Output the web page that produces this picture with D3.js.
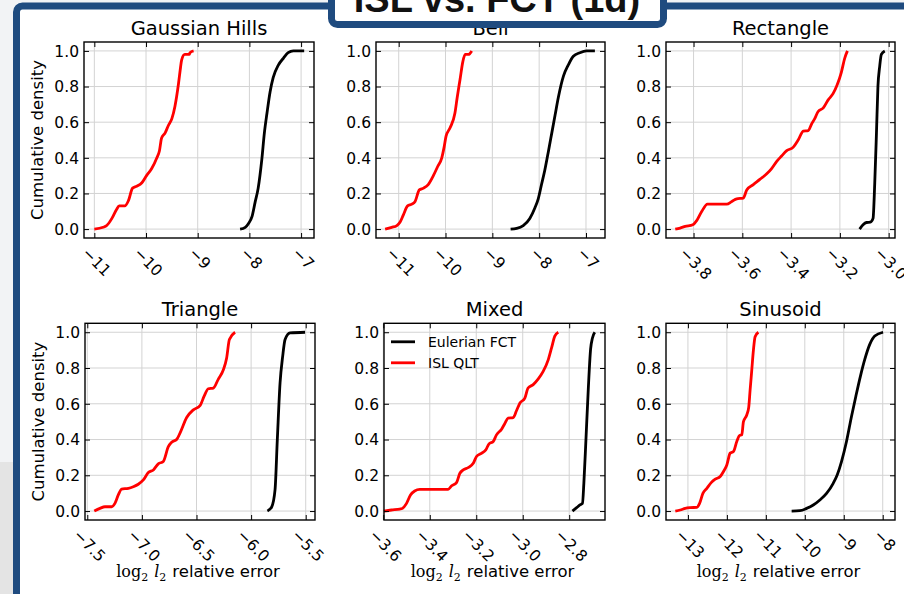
<!DOCTYPE html>
<html><head><meta charset="utf-8">
<script src="https://cdn.jsdelivr.net/npm/d3@7"></script>
<style>html,body{margin:0;padding:0;background:#f2f3f5;overflow:hidden}svg{display:block}</style>
</head><body><svg id="c" width="904" height="594"></svg>
<script>
// ---------------- data ----------------
const panelTitles = ["Gaussian Hills", "Bell", "Rectangle", "Triangle", "Mixed", "Sinusoid"];
const seriesNames = ["Eulerian FCT", "ISL QLT"];
const yTickValues = [0, 0.2, 0.4, 0.6, 0.8, 1.0];
const yLimits = [-0.05, 1.05];

const gaussianHillsFCT = [[-8.18,0],[-8.08,0.01],[-8.02,0.03],[-7.95,0.07],[-7.89,0.15],[-7.83,0.23],[-7.76,0.39],[-7.71,0.54],[-7.66,0.65],[-7.60,0.77],[-7.54,0.85],[-7.44,0.92],[-7.34,0.96],[-7.25,0.99],[-7.15,1.0],[-6.94,1.0]];
const gaussianHillsISL = [[-11.0,0],[-10.83,0.01],[-10.76,0.02],[-10.66,0.06],[-10.57,0.11],[-10.52,0.13],[-10.41,0.13],[-10.34,0.16],[-10.26,0.23],[-10.18,0.24],[-10.08,0.26],[-9.99,0.30],[-9.89,0.34],[-9.79,0.40],[-9.74,0.44],[-9.70,0.51],[-9.63,0.54],[-9.57,0.58],[-9.50,0.62],[-9.44,0.69],[-9.41,0.74],[-9.37,0.82],[-9.34,0.89],[-9.31,0.95],[-9.25,0.98],[-9.16,0.98],[-9.15,0.99],[-9.08,1.0]];

const bellFCT = [[-8.61,0],[-8.48,0.004],[-8.34,0.02],[-8.20,0.06],[-8.09,0.12],[-8.02,0.17],[-7.95,0.25],[-7.88,0.33],[-7.80,0.44],[-7.73,0.54],[-7.66,0.64],[-7.59,0.74],[-7.48,0.86],[-7.38,0.92],[-7.27,0.97],[-7.13,0.99],[-6.99,1.0],[-6.81,1.0]];
const bellISL = [[-11.29,0],[-11.15,0.01],[-11.04,0.02],[-10.97,0.04],[-10.90,0.08],[-10.81,0.13],[-10.72,0.14],[-10.65,0.155],[-10.56,0.22],[-10.47,0.23],[-10.37,0.25],[-10.26,0.30],[-10.17,0.35],[-10.08,0.40],[-10.03,0.46],[-9.99,0.52],[-9.90,0.57],[-9.80,0.65],[-9.75,0.74],[-9.69,0.84],[-9.63,0.94],[-9.58,0.98],[-9.51,0.98],[-9.44,1.0]];

const rectangleFCT = [[-3.119,0],[-3.105,0.024],[-3.091,0.037],[-3.075,0.039],[-3.064,0.06],[-3.057,0.26],[-3.050,0.54],[-3.044,0.80],[-3.037,0.91],[-3.030,0.98],[-3.016,1.0]];
const rectangleISL = [[-3.875,0],[-3.855,0.006],[-3.834,0.015],[-3.803,0.024],[-3.786,0.05],[-3.766,0.10],[-3.743,0.14],[-3.718,0.14],[-3.664,0.14],[-3.643,0.155],[-3.623,0.17],[-3.596,0.174],[-3.582,0.22],[-3.555,0.25],[-3.527,0.28],[-3.500,0.31],[-3.480,0.34],[-3.459,0.38],[-3.439,0.41],[-3.418,0.44],[-3.391,0.46],[-3.371,0.50],[-3.350,0.55],[-3.330,0.553],[-3.316,0.59],[-3.303,0.62],[-3.289,0.66],[-3.268,0.68],[-3.248,0.725],[-3.228,0.76],[-3.211,0.81],[-3.194,0.88],[-3.180,0.96],[-3.169,1.0]];

const triangleFCT = [[-5.851,0],[-5.811,0.024],[-5.781,0.118],[-5.760,0.40],[-5.735,0.716],[-5.711,0.865],[-5.689,0.959],[-5.643,0.996],[-5.506,1.0]];
const triangleISL = [[-7.436,0],[-7.384,0.015],[-7.338,0.024],[-7.277,0.024],[-7.247,0.043],[-7.216,0.09],[-7.186,0.123],[-7.124,0.127],[-7.079,0.136],[-7.033,0.15],[-6.987,0.174],[-6.941,0.215],[-6.895,0.23],[-6.850,0.264],[-6.804,0.277],[-6.758,0.36],[-6.727,0.385],[-6.682,0.40],[-6.651,0.436],[-6.590,0.523],[-6.529,0.566],[-6.468,0.589],[-6.431,0.641],[-6.392,0.684],[-6.346,0.688],[-6.300,0.738],[-6.254,0.79],[-6.224,0.856],[-6.199,0.959],[-6.147,1.0]];

const mixedFCT = [[-2.786,0],[-2.768,0.019],[-2.754,0.034],[-2.743,0.043],[-2.737,0.155],[-2.728,0.40],[-2.718,0.68],[-2.708,0.905],[-2.700,0.968],[-2.690,1.0]];
const mixedISL = [[-3.598,0],[-3.565,0.006],[-3.529,0.011],[-3.518,0.015],[-3.500,0.043],[-3.483,0.09],[-3.465,0.112],[-3.443,0.121],[-3.386,0.121],[-3.321,0.121],[-3.307,0.14],[-3.285,0.159],[-3.271,0.21],[-3.256,0.23],[-3.235,0.243],[-3.213,0.267],[-3.199,0.305],[-3.178,0.323],[-3.159,0.342],[-3.145,0.376],[-3.127,0.389],[-3.113,0.426],[-3.091,0.458],[-3.077,0.49],[-3.063,0.52],[-3.041,0.523],[-3.027,0.561],[-3.012,0.604],[-2.991,0.632],[-2.977,0.688],[-2.955,0.707],[-2.934,0.738],[-2.912,0.781],[-2.890,0.847],[-2.876,0.912],[-2.862,0.978],[-2.847,1.0]];

const sinusoidFCT = [[-10.338,0],[-10.125,0.002],[-9.954,0.015],[-9.783,0.034],[-9.613,0.062],[-9.442,0.099],[-9.271,0.155],[-9.169,0.202],[-9.058,0.277],[-8.930,0.389],[-8.802,0.529],[-8.691,0.641],[-8.572,0.755],[-8.461,0.848],[-8.333,0.932],[-8.205,0.979],[-7.991,1.0]];
const sinusoidISL = [[-13.324,0],[-13.196,0.006],[-13.068,0.015],[-12.940,0.019],[-12.770,0.021],[-12.701,0.043],[-12.616,0.099],[-12.514,0.127],[-12.403,0.159],[-12.300,0.178],[-12.172,0.193],[-12.087,0.221],[-12.002,0.258],[-11.916,0.324],[-11.831,0.333],[-11.746,0.389],[-11.678,0.422],[-11.618,0.426],[-11.575,0.50],[-11.490,0.537],[-11.439,0.581],[-11.404,0.677],[-11.362,0.787],[-11.319,0.90],[-11.276,0.975],[-11.191,1.0]];

const gaussianHillsTicks = [-11, -10, -9, -8, -7];
const bellTicks = [-11, -10, -9, -8, -7];
const rectangleTicks = [-3.8, -3.6, -3.4, -3.2, -3.0];
const triangleTicks = [-7.5, -7.0, -6.5, -6.0, -5.5];
const mixedTicks = [-3.6, -3.4, -3.2, -3.0, -2.8];
const sinusoidTicks = [-13, -12, -11, -10, -9, -8];
const tickFormats = ["d", "d", ".1f", ".1f", ".1f", "d"];

const xLimits = [[-11.2, -6.75], [-11.485, -6.594], [-3.913, -2.974], [-7.521, -5.415], [-3.597, -2.646], [-13.563, -7.685]];

// ---------------- layout / style ----------------
const boxes = [
  {x0: 84, x1: 314, y0: 42, y1: 238},
  {x0: 376, x1: 605, y0: 42, y1: 238},
  {x0: 666, x1: 895, y0: 42, y1: 238},
  {x0: 85, x1: 315, y0: 323.3, y1: 520},
  {x0: 384, x1: 605, y0: 323.3, y1: 520},
  {x0: 666, x1: 895, y0: 323.3, y1: 520}
];
const fctSeries = [gaussianHillsFCT, bellFCT, rectangleFCT, triangleFCT, mixedFCT, sinusoidFCT];
const islSeries = [gaussianHillsISL, bellISL, rectangleISL, triangleISL, mixedISL, sinusoidISL];
const xTickSets = [gaussianHillsTicks, bellTicks, rectangleTicks, triangleTicks, mixedTicks, sinusoidTicks];

const FONT = "'DejaVu Sans', sans-serif";
const BLUE = "#1f4b7f";
const LW = 2.8;
const svg = d3.select("#c");

// slide background + frame
svg.append("rect").attr("x", 0).attr("y", 0).attr("width", 904).attr("height", 594).attr("fill", "#f2f3f5");
svg.append("rect").attr("x", 0).attr("y", 462).attr("width", 20).attr("height", 132).attr("fill", "#e4e4e4");
svg.append("rect").attr("x", 16.5).attr("y", 6).attr("width", 1000).attr("height", 1000).attr("rx", 6)
  .attr("fill", "#ffffff").attr("stroke", BLUE).attr("stroke-width", 7);

const line = (x, y) => d3.line().x(d => x(d[0])).y(d => y(d[1])).curve(d3.curveMonotoneX);

panelTitles.forEach((title, i) => {
  const b = boxes[i];
  const x = d3.scaleLinear().domain(xLimits[i]).range([b.x0, b.x1]);
  const y = d3.scaleLinear().domain(yLimits).range([b.y1, b.y0]);
  const g = svg.append("g");
  const fmt = d3.format(tickFormats[i]);

  g.append("rect").attr("x", b.x0).attr("y", b.y0).attr("width", b.x1 - b.x0).attr("height", b.y1 - b.y0).attr("fill", "#fff");

  // grid
  g.selectAll(".gx").data(xTickSets[i]).join("line")
    .attr("x1", d => x(d)).attr("x2", d => x(d)).attr("y1", b.y0).attr("y2", b.y1)
    .attr("stroke", "#d3d3d3").attr("stroke-width", 1);
  g.selectAll(".gy").data(yTickValues).join("line")
    .attr("x1", b.x0).attr("x2", b.x1).attr("y1", d => y(d)).attr("y2", d => y(d))
    .attr("stroke", "#d3d3d3").attr("stroke-width", 1);

  // data
  g.append("path").datum(fctSeries[i]).attr("d", line(x, y)).attr("fill", "none")
    .attr("stroke", "#000").attr("stroke-width", LW).attr("stroke-linejoin", "round");
  g.append("path").datum(islSeries[i]).attr("d", line(x, y)).attr("fill", "none")
    .attr("stroke", "#ff0000").attr("stroke-width", LW).attr("stroke-linejoin", "round");

  // axes with inward ticks
  const axB = g.append("g").attr("transform", `translate(0,${b.y1})`)
    .call(d3.axisBottom(x).tickValues(xTickSets[i]).tickSize(-5).tickFormat(""));
  const axT = g.append("g").attr("transform", `translate(0,${b.y0})`)
    .call(d3.axisTop(x).tickValues(xTickSets[i]).tickSize(-5).tickFormat(""));
  const axL = g.append("g").attr("transform", `translate(${b.x0},0)`)
    .call(d3.axisLeft(y).tickValues(yTickValues).tickSize(-5).tickPadding(5).tickFormat(d3.format(".1f")));
  const axR = g.append("g").attr("transform", `translate(${b.x1},0)`)
    .call(d3.axisRight(y).tickValues(yTickValues).tickSize(-5).tickFormat(""));
  [axB, axT, axL, axR].forEach(a => {
    a.select(".domain").remove();
    a.selectAll(".tick line").attr("stroke", "#000").attr("stroke-width", 1);
  });
  axL.selectAll("text").attr("font-family", FONT).attr("font-size", 15.5).attr("fill", "#000").attr("dy", "0.35em");

  // spines
  g.append("rect").attr("x", b.x0).attr("y", b.y0).attr("width", b.x1 - b.x0).attr("height", b.y1 - b.y0)
    .attr("fill", "none").attr("stroke", "#000").attr("stroke-width", 1.4);

  // rotated x tick labels
  xTickSets[i].forEach(t => {
    const txt = g.append("text").attr("font-family", FONT).attr("font-size", 15.5).attr("fill", "#000")
      .attr("text-anchor", "middle").attr("dominant-baseline", "central").text(fmt(t));
    const w = txt.node().getComputedTextLength();
    const H = (w + 0.95 * 15) / Math.SQRT2;
    txt.attr("transform", `translate(${x(t) + 2},${b.y1 + 7.5 + H / 2}) rotate(45)`);
  });

  // title
  g.append("text").attr("x", (b.x0 + b.x1) / 2).attr("y", b.y0 - 7).attr("text-anchor", "middle")
    .attr("font-family", FONT).attr("font-size", 19.5).attr("fill", "#000").text(title);

  // y label (left column)
  if (i % 3 === 0) {
    g.append("text").attr("transform", `translate(${b.x0 - 41},${(b.y0 + b.y1) / 2}) rotate(-90)`)
      .attr("text-anchor", "middle").attr("font-family", FONT).attr("font-size", 16.5).attr("fill", "#000")
      .text("Cumulative density");
  }
  // x label (bottom row)
  if (i >= 3) {
    const xl = g.append("text").attr("x", (b.x0 + b.x1) / 2 - 2).attr("y", 577).attr("text-anchor", "middle")
      .attr("font-size", 16).attr("fill", "#000");
    const serif = "'DejaVu Serif', 'Liberation Serif', serif";
    xl.append("tspan").attr("font-family", serif).attr("font-size", 16).text("log");
    xl.append("tspan").attr("font-family", serif).attr("font-size", 11).attr("dy", 4).text("2");
    xl.append("tspan").attr("font-family", serif).attr("font-size", 16).attr("font-style", "italic").attr("dy", -4).attr("dx", 6).text("l");
    xl.append("tspan").attr("font-family", serif).attr("font-size", 11).attr("dy", 4).text("2");
    xl.append("tspan").attr("font-family", FONT).attr("font-size", 16.5).attr("dy", -4).attr("dx", 6).text("relative error");
  }

  // legend in Mixed panel
  if (title === "Mixed") {
    const colors = ["#000", "#ff0000"];
    seriesNames.forEach((name, k) => {
      const ly = b.y0 + 18.5 + k * 21;
      g.append("line").attr("x1", b.x0 + 7).attr("x2", b.x0 + 31).attr("y1", ly).attr("y2", ly)
        .attr("stroke", colors[k]).attr("stroke-width", LW);
      g.append("text").attr("x", b.x0 + 44).attr("y", ly).attr("dy", "0.35em")
        .attr("font-family", FONT).attr("font-size", 14).attr("fill", "#000").text(name);
    });
  }
});

// slide title box (drawn on top, covering part of the "Bell" title as in the slide)
svg.append("rect").attr("x", 331.5).attr("y", -20).attr("width", 332).attr("height", 44.5).attr("rx", 6)
  .attr("fill", "#ffffff").attr("stroke", BLUE).attr("stroke-width", 7);
svg.append("text").attr("x", 497).attr("y", 12).attr("text-anchor", "middle")
  .attr("font-family", "'Liberation Sans', Arial, sans-serif").attr("font-weight", "bold")
  .attr("font-size", 38).attr("fill", "#111").text("ISL vs. FCT (1d)");
</script>
</body></html>
